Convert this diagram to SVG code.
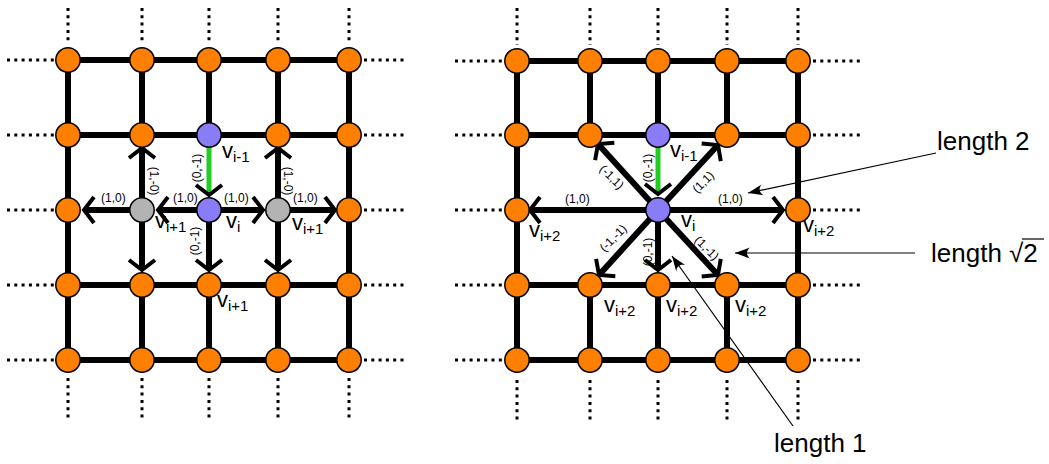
<svg xmlns="http://www.w3.org/2000/svg" width="1049" height="464" viewBox="0 0 1049 464">
<defs>
<style>
.g{stroke:#000;stroke-width:6;fill:none}
.d{stroke:#000;stroke-width:3;stroke-dasharray:3 4.3;fill:none}
.a{stroke:#000;stroke-width:6;fill:none;marker-end:url(#chev)}
.gr{stroke:#22cc22;stroke-width:5;fill:none;marker-end:url(#chev)}
.t{stroke:#000;stroke-width:1.2;fill:none;marker-end:url(#dart)}
.o{fill:#ff7f00;stroke:#000;stroke-width:1.5}
.p{fill:#8a7cf7;stroke:#000;stroke-width:1.5}
.y{fill:#b3b3b3;stroke:#000;stroke-width:1.5}
circle{r:12.2px}
.v{font-family:"Liberation Sans",Arial,sans-serif;font-size:22px;fill:#000}
.s{font-size:15px}
.e{font-family:"Liberation Sans",Arial,sans-serif;font-size:12px;fill:#000}
.L{font-family:"Liberation Sans",Arial,sans-serif;font-size:26px;fill:#000}
</style>
<marker id="chev" markerUnits="userSpaceOnUse" orient="auto" viewBox="-16 -16 20 32" markerWidth="20" markerHeight="32" refX="0" refY="0" overflow="visible">
<path d="M-10,-13 L0,0 L-10,13" stroke="#000" stroke-width="4" fill="none"/>
</marker>
<marker id="dart" markerUnits="userSpaceOnUse" orient="auto" viewBox="-16 -8 18 16" markerWidth="18" markerHeight="16" refX="0" refY="0" overflow="visible">
<path d="M0,0 L-15,-5.5 C-11,-2 -11,2 -15,5.5 Z" fill="#000"/>
</marker>
</defs>
<g id="dots">
<path class="d" d="M7,60H56M7,135H56M7,210H56M7,285H56M7,360H56"/>
<path class="d" d="M364,60H405M364,135H405M364,210H405M364,285H405M364,360H405"/>
<path class="d" d="M68,8V44M142,8V44M209,8V44M278,8V44M349,8V44"/>
<path class="d" d="M68,378V420M142,378V420M209,378V420M278,378V420M349,378V420"/>
<path class="d" d="M455,61H502M455,135H502M455,210H502M455,285H502M455,360H502"/>
<path class="d" d="M813,61H862M813,135H862M813,210H862M813,285H862M813,360H862"/>
<path class="d" d="M517,8V45M590,8V45M658,8V45M727,8V45M798,8V45"/>
<path class="d" d="M517,380V420M590,380V420M658,380V420M727,380V420M798,380V420"/>
</g>
<g id="connectors">
<path class="g" d="M68,60H349M68,135H349M68,285H349M68,360H349M68,60V360M349,60V360M142,60V135M209,60V135M278,60V135M142,285V360M209,285V360M278,285V360"/>
<path class="a" d="M142,210H84"/>
<path class="a" d="M209,210H158"/>
<path class="a" d="M209,210H263"/>
<path class="a" d="M278,210H335"/>
<path class="a" d="M142,210V148"/>
<path class="a" d="M142,210V270"/>
<path class="a" d="M278,210V148"/>
<path class="a" d="M278,210V270"/>
<path class="a" d="M209,210V270"/>
<path class="gr" d="M209,147V195"/>
<path class="g" d="M517,61H798M517,135H798M517,285H798M517,360H798M517,61V360M798,61V360M590,61V135M658,61V135M727,61V135M590,285V360M658,285V360M727,285V360"/>
<path class="a" d="M658,210H530"/>
<path class="a" d="M658,210H783"/>
<path class="a" d="M658,210L598,144"/>
<path class="a" d="M658,210L718,145"/>
<path class="a" d="M658,210L599,275"/>
<path class="a" d="M658,210L718,275"/>
<path class="a" d="M658,210V270"/>
<path class="gr" d="M658,147V194"/>
<path class="t" d="M936,153L748,193"/>
<path class="t" d="M915,253H735"/>
<path class="t" d="M793,426L672,256"/>
</g>
<g id="left-nodes">
<circle class="o" cx="68" cy="60" r="12.2"/><circle class="o" cx="142" cy="60" r="12.2"/><circle class="o" cx="209" cy="60" r="12.2"/><circle class="o" cx="278" cy="60" r="12.2"/><circle class="o" cx="349" cy="60" r="12.2"/>
<circle class="o" cx="68" cy="135" r="12.2"/><circle class="o" cx="142" cy="135" r="12.2"/><circle class="o" cx="278" cy="135" r="12.2"/><circle class="o" cx="349" cy="135" r="12.2"/>
<circle class="o" cx="68" cy="210" r="12.2"/><circle class="o" cx="349" cy="210" r="12.2"/>
<circle class="o" cx="68" cy="285" r="12.2"/><circle class="o" cx="142" cy="285" r="12.2"/><circle class="o" cx="209" cy="285" r="12.2"/><circle class="o" cx="278" cy="285" r="12.2"/><circle class="o" cx="349" cy="285" r="12.2"/>
<circle class="o" cx="68" cy="360" r="12.2"/><circle class="o" cx="142" cy="360" r="12.2"/><circle class="o" cx="209" cy="360" r="12.2"/><circle class="o" cx="278" cy="360" r="12.2"/><circle class="o" cx="349" cy="360" r="12.2"/>
</g>
<g id="left-vi-1"><circle class="p" cx="209" cy="135" r="12.2"/><text class="v" x="222" y="158">v<tspan class="s" dy="4">i-1</tspan></text></g>
<g id="left-vi"><circle class="p" cx="209" cy="210" r="12.2"/><text class="v" x="226" y="228">v<tspan class="s" dy="4">i</tspan></text></g>
<g id="left-vi+1-a"><circle class="y" cx="142" cy="210" r="12.2"/><text class="v" x="155" y="228">v<tspan class="s" dy="4">i+1</tspan></text></g>
<g id="left-vi+1-b"><circle class="y" cx="278" cy="210" r="12.2"/><text class="v" x="292" y="230">v<tspan class="s" dy="4">i+1</tspan></text></g>
<g id="left-vi+1-c"><text class="v" x="217" y="307">v<tspan class="s" dy="4">i+1</tspan></text></g>
<g id="left-edge-labels">
<text class="e" x="101" y="202">(1,0)</text>
<text class="e" x="173" y="202">(1,0)</text>
<text class="e" x="224" y="202">(1,0)</text>
<text class="e" x="293" y="202">(1,0)</text>
<text class="e" transform="translate(201,168) rotate(-90)" text-anchor="middle">(0,-1)</text>
<text class="e" transform="translate(199,241) rotate(-90)" text-anchor="middle">(0,-1)</text>
<text class="e" transform="translate(150,181) rotate(90)" text-anchor="middle">(1,-0)</text>
<text class="e" transform="translate(284,181) rotate(90)" text-anchor="middle">(1,-0)</text>
</g>
<g id="right-nodes">
<circle class="o" cx="517" cy="61" r="12.2"/><circle class="o" cx="590" cy="61" r="12.2"/><circle class="o" cx="658" cy="61" r="12.2"/><circle class="o" cx="727" cy="61" r="12.2"/><circle class="o" cx="798" cy="61" r="12.2"/>
<circle class="o" cx="517" cy="135" r="12.2"/><circle class="o" cx="590" cy="135" r="12.2"/><circle class="o" cx="727" cy="135" r="12.2"/><circle class="o" cx="798" cy="135" r="12.2"/>
<circle class="o" cx="517" cy="360" r="12.2"/><circle class="o" cx="590" cy="360" r="12.2"/><circle class="o" cx="658" cy="360" r="12.2"/><circle class="o" cx="727" cy="360" r="12.2"/><circle class="o" cx="798" cy="360" r="12.2"/>
<circle class="o" cx="517" cy="285" r="12.2"/><circle class="o" cx="798" cy="285" r="12.2"/>
</g>
<g id="right-vi-1"><circle class="p" cx="658" cy="135" r="12.2"/><text class="v" x="670" y="157">v<tspan class="s" dy="4">i-1</tspan></text></g>
<g id="right-vi"><circle class="p" cx="658" cy="210" r="12.2"/><text class="v" x="681" y="227">v<tspan class="s" dy="4">i</tspan></text></g>
<g id="right-vi+2-w"><circle class="o" cx="517" cy="210" r="12.2"/><text class="v" x="529" y="237">v<tspan class="s" dy="4">i+2</tspan></text></g>
<g id="right-vi+2-e"><circle class="o" cx="798" cy="210" r="12.2"/><text class="v" x="803" y="232">v<tspan class="s" dy="4">i+2</tspan></text></g>
<g id="right-vi+2-sw"><circle class="o" cx="590" cy="285" r="12.2"/><text class="v" x="604" y="312">v<tspan class="s" dy="4">i+2</tspan></text></g>
<g id="right-vi+2-s"><circle class="o" cx="658" cy="285" r="12.2"/><text class="v" x="666" y="312">v<tspan class="s" dy="4">i+2</tspan></text></g>
<g id="right-vi+2-se"><circle class="o" cx="727" cy="285" r="12.2"/><text class="v" x="735" y="312">v<tspan class="s" dy="4">i+2</tspan></text></g>
<g id="right-edge-labels">
<text class="e" x="565" y="203">(1,0)</text>
<text class="e" x="718" y="203">(1,0)</text>
<text class="e" transform="translate(652,168) rotate(-90)" text-anchor="middle">(0,-1)</text>
<text class="e" transform="translate(652,252) rotate(-90)" text-anchor="middle">(0,-1)</text>
<text class="e" transform="translate(609,180) rotate(45)" text-anchor="middle">(-1,1)</text>
<text class="e" transform="translate(706,185) rotate(-45)" text-anchor="middle">(1,1)</text>
<text class="e" transform="translate(616,241) rotate(-45)" text-anchor="middle">(-1,-1)</text>
<text class="e" transform="translate(704,251) rotate(45)" text-anchor="middle">(1,-1)</text>
</g>
<g id="annotations">
<text class="L" x="937" y="150">length 2</text>
<text class="L" x="931" y="262">length √2</text>
<line x1="1022" y1="239" x2="1044" y2="239" stroke="#000" stroke-width="1.2"/>
<text class="L" x="774" y="452">length 1</text>
</g>
</svg>
